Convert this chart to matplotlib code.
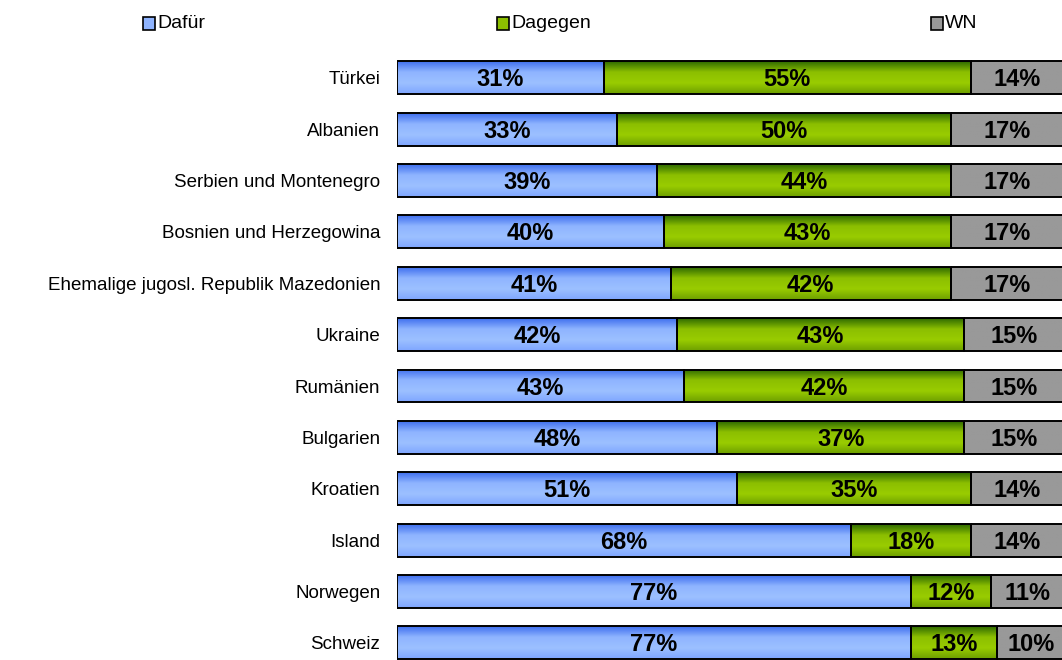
import numpy as np
import matplotlib.pyplot as plt
from matplotlib.colors import LinearSegmentedColormap

plt.rcParams['font.family'] = ['Liberation Sans', 'DejaVu Sans']

# data
countries = ['Türkei', 'Albanien', 'Serbien und Montenegro', 'Bosnien und Herzegowina',
             'Ehemalige jugosl. Republik Mazedonien', 'Ukraine', 'Rumänien', 'Bulgarien',
             'Kroatien', 'Island', 'Norwegen', 'Schweiz']
dafuer = [31, 33, 39, 40, 41, 42, 43, 48, 51, 68, 77, 77]
dagegen = [55, 50, 44, 43, 42, 43, 42, 37, 35, 18, 12, 13]
wn = [14, 17, 17, 17, 17, 15, 15, 15, 14, 14, 11, 10]
series_names = ['Dafür', 'Dagegen', 'WN']

# gradient colour maps (top -> bottom of each bar)
blue_cm = LinearSegmentedColormap.from_list('b', ['#3f6fee', '#8fb4ff', '#9cc0ff', '#7fa6ff'])
green_cm = LinearSegmentedColormap.from_list('g', ['#2f6a00', '#8cbf00', '#99cc00', '#6ea000'])
gray_cm = LinearSegmentedColormap.from_list('k', ['#999999', '#999999'])
solid = ['#8fb4ff', '#8cbf00', '#999999']
cmaps = [blue_cm, green_cm, gray_cm]

fig = plt.figure(figsize=(10.62, 6.6), dpi=100)
ax = fig.add_axes([397 / 1062, -0.013, 1 - 397 / 1062 + 0.002, 0.934])

y = np.arange(len(countries))
h = 0.64
grad = np.linspace(0, 1, 64).reshape(-1, 1)
left = np.zeros(len(countries))
for vals, cm in zip([dafuer, dagegen, wn], cmaps):
    bars = ax.barh(y, vals, left=left, height=h, facecolor='none',
                   edgecolor='black', linewidth=1.4, zorder=3)
    for b, v in zip(bars, vals):
        x0, y0 = b.get_x(), b.get_y()
        im = ax.imshow(grad, cmap=cm, aspect='auto', zorder=2,
                       extent=[x0, x0 + b.get_width(), y0 + h, y0])
        im.set_clip_path(b)
        ax.text(x0 + b.get_width() / 2, y0 + h / 2 + 0.04, f'{v}%', ha='center', va='center',
                fontsize=17, fontweight='bold', zorder=4)
    left = left + np.array(vals)

ax.set_xlim(0, 100)
ax.set_ylim(len(countries) - 0.5, -0.5)
ax.set_yticks(y)
ax.set_yticklabels(countries, fontsize=13.5)
ax.tick_params(axis='y', length=0, pad=12)
ax.set_xticks([])
for s in ax.spines.values():
    s.set_visible(False)

# legend across the top
xs = [143 / 1062, 497 / 1062, 931 / 1062]
for xp, name, c in zip(xs, series_names, solid):
    fig.patches.append(plt.Rectangle((xp, 0.955), 0.0115, 0.0185, transform=fig.transFigure,
                                     facecolor=c, edgecolor='black', linewidth=1.2))
    fig.text(xp + 0.0135, 0.965, name, fontsize=14, va='center')

fig.savefig('out.png', dpi=100)
